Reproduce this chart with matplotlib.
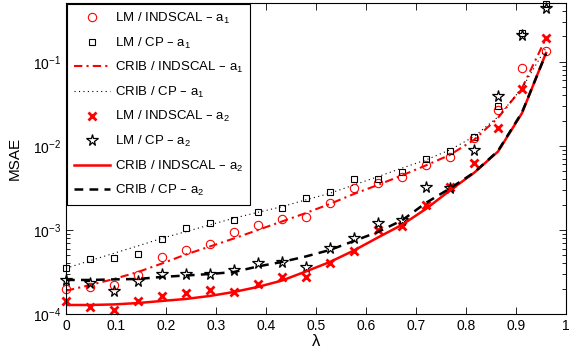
import numpy as np
import matplotlib
matplotlib.use("Agg")
import matplotlib.pyplot as plt

plt.rcParams.update({
    'font.family': ['Liberation Sans', 'DejaVu Sans'],
    'mathtext.default': 'regular',
    'font.size': 10,
})

# lambda values of the 21 evaluated points
lam = [0.000, 0.048, 0.096, 0.144, 0.192, 0.240, 0.288, 0.336, 0.384, 0.432, 0.480,
       0.528, 0.576, 0.624, 0.672, 0.720, 0.768, 0.816, 0.864, 0.912, 0.960]

# markers (LM estimates)
lm_ind_a1 = [1.97e-4, 2.11e-4, 2.20e-4, 2.89e-4, 4.81e-4, 5.78e-4, 6.76e-4, 9.55e-4, 1.15e-3, 1.34e-3, 1.44e-3,
             2.11e-3, 3.13e-3, 3.63e-3, 4.31e-3, 5.94e-3, 7.33e-3, 1.25e-2, 2.68e-2, 8.41e-2, 0.133]
lm_cp_a1 = [3.50e-4, 4.51e-4, 4.68e-4, 5.14e-4, 7.75e-4, 1.05e-3, 1.20e-3, 1.32e-3, 1.62e-3, 1.81e-3, 2.38e-3,
            2.86e-3, 4.05e-3, 4.05e-3, 4.94e-3, 6.95e-3, 8.79e-3, 1.28e-2, 2.94e-2, 0.220, 0.49]
lm_ind_a2 = [1.43e-4, 1.20e-4, 1.11e-4, 1.44e-4, 1.65e-4, 1.76e-4, 1.92e-4, 1.81e-4, 2.28e-4, 2.78e-4, 2.73e-4,
             4.05e-4, 5.67e-4, 1.00e-3, 1.10e-3, 1.98e-3, 3.22e-3, 6.22e-3, 1.62e-2, 4.73e-2, 0.191]
lm_cp_a2 = [2.54e-4, 2.36e-4, 1.89e-4, 2.47e-4, 2.97e-4, 2.97e-4, 2.99e-4, 3.30e-4, 4.01e-4, 4.14e-4, 3.63e-4,
            6.15e-4, 8.03e-4, 1.20e-3, 1.33e-3, 3.25e-3, 3.12e-3, 8.84e-3, 3.94e-2, 0.210, 0.436]

# lines (CRIB bound)
crib_ind_a1 = [1.89e-4, 2.21e-4, 2.61e-4, 3.16e-4, 3.99e-4, 5.11e-4, 6.36e-4, 7.92e-4, 1.00e-3, 1.26e-3, 1.59e-3,
               2.04e-3, 2.68e-3, 3.43e-3, 4.45e-3, 5.86e-3, 7.81e-3, 1.18e-2, 2.15e-2, 4.86e-2, 0.191]
crib_cp_a1 = [3.50e-4, 4.31e-4, 5.28e-4, 6.45e-4, 7.96e-4, 9.55e-4, 1.15e-3, 1.38e-3, 1.62e-3, 1.89e-3, 2.28e-3,
              2.73e-3, 3.43e-3, 4.31e-3, 5.43e-3, 6.81e-3, 8.96e-3, 1.29e-2, 2.21e-2, 4.86e-2, 0.146]
crib_ind_a2 = [1.28e-4, 1.28e-4, 1.30e-4, 1.35e-4, 1.43e-4, 1.51e-4, 1.64e-4, 1.83e-4, 2.10e-4, 2.50e-4, 3.21e-4,
               4.16e-4, 5.70e-4, 8.14e-4, 1.15e-3, 1.78e-3, 2.95e-3, 4.77e-3, 8.55e-3, 2.45e-2, 0.127]
crib_cp_a2 = [2.54e-4, 2.54e-4, 2.58e-4, 2.61e-4, 2.76e-4, 2.87e-4, 2.99e-4, 3.16e-4, 3.68e-4, 4.16e-4, 4.84e-4,
              5.78e-4, 7.39e-4, 9.47e-4, 1.30e-3, 2.10e-3, 3.12e-3, 4.80e-3, 8.70e-3, 2.50e-2, 0.125]

fig = plt.figure(figsize=(5.72, 3.56), dpi=100)
ax = fig.add_axes([66 / 572, 42 / 356, 500 / 572, 311 / 356])

ax.plot(lam, lm_ind_a1, ls='none', marker='o', ms=6, mfc='none', mec='r', mew=0.8,
        label='LM / INDSCAL – a$_1$', clip_on=False)
ax.plot(lam, lm_cp_a1, ls='none', marker='s', ms=5, mfc='none', mec='k', mew=0.8,
        label='LM / CP – a$_1$', clip_on=False)
ax.plot(lam, crib_ind_a1, color='r', lw=1.5, ls=(0, (4, 2, 1, 2)),
        label='CRIB / INDSCAL – a$_1$')
ax.plot(lam, crib_cp_a1, color='k', lw=0.8, ls=(0, (1, 3)),
        label='CRIB / CP – a$_1$')
ax.plot(lam, lm_ind_a2, ls='none', marker='x', ms=5.5, mec='r', mew=2,
        label='LM / INDSCAL – a$_2$', clip_on=False)
ax.plot(lam, lm_cp_a2, ls='none', marker='*', ms=8.5, mfc='none', mec='k', mew=0.9,
        label='LM / CP – a$_2$', clip_on=False)
ax.plot(lam, crib_ind_a2, color='r', lw=1.8, label='CRIB / INDSCAL – a$_2$')
ax.plot(lam, crib_cp_a2, color='k', lw=1.8, ls=(0, (3.5, 2.5)), label='CRIB / CP – a$_2$')

ax.set_yscale('log')
ax.set_xlim(0, 1)
ax.set_ylim(1e-4, 0.5)
ax.set_xticks(np.arange(0, 1.01, 0.1))
ax.set_xticklabels(['0', '0.1', '0.2', '0.3', '0.4', '0.5', '0.6', '0.7', '0.8', '0.9', '1'])
ax.tick_params(which='both', direction='in', top=True, right=True, labelsize=10)
ax.tick_params(which='major', length=5, width=0.6)
ax.tick_params(which='minor', length=3, width=0.6)
ax.tick_params(axis='x', which='minor', bottom=False, top=False)
for sp in ax.spines.values():
    sp.set_linewidth(0.8)

ax.set_xlabel('λ', fontsize=12, labelpad=1)
ax.set_ylabel('MSAE', fontsize=11, labelpad=8)

leg = ax.legend(loc='upper left', fontsize=9.5, frameon=True, fancybox=False,
                edgecolor='k', framealpha=1, borderaxespad=0.1, handlelength=2.7,
                handletextpad=0.4, labelspacing=0.72, borderpad=0.5)
leg.get_frame().set_linewidth(0.8)

fig.savefig('out.png', dpi=100)
